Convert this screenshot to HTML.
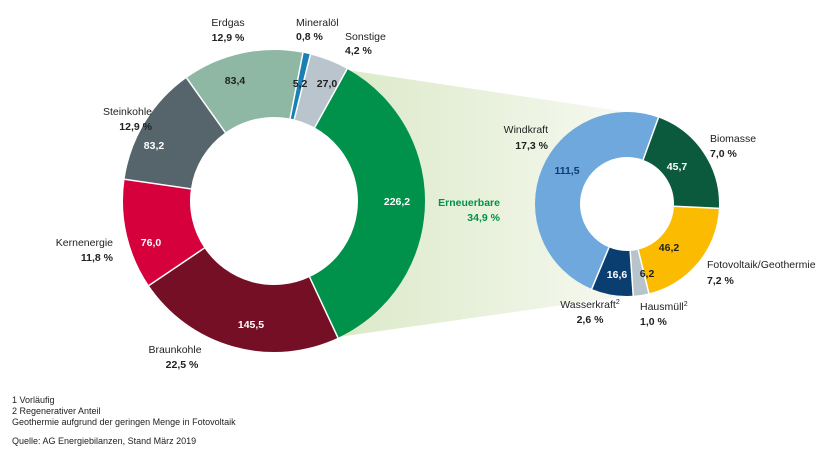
<!DOCTYPE html>
<html><head><meta charset="utf-8"><style>
body{margin:0;background:#fff}
svg{display:block;font-family:"Liberation Sans",sans-serif}
.l{font-size:10.5px;fill:#222}
.p{font-size:10.5px;font-weight:bold;fill:#222}
.v{font-size:10.5px;font-weight:bold}
.f{font-size:9px;fill:#222}
</style></head><body>
<svg width="834" height="467" viewBox="0 0 834 467">
<defs><linearGradient id="g" x1="0" x2="1" y1="0" y2="0">
<stop offset="0" stop-color="#dbe9c8"/><stop offset="1" stop-color="#f6f9f0"/></linearGradient></defs>
<polygon points="347,70 627,112 627,296 338,337" fill="url(#g)"/>
<circle cx="274" cy="201" r="84" fill="#fff"/>
<circle cx="627" cy="204" r="47" fill="#fff"/>
<g fill="none" stroke-width="67">
<circle cx="274" cy="201" r="117.5" stroke="#8fb8a4" stroke-dasharray="95.24 1000" transform="rotate(-125.4 274 201)"/>
<circle cx="274" cy="201" r="117.5" stroke="#1a7fb5" stroke-dasharray="5.94 1000" transform="rotate(-78.96 274 201)"/>
<circle cx="274" cy="201" r="117.5" stroke="#b9c4cc" stroke-dasharray="30.82 1000" transform="rotate(-76.06 274 201)"/>
<circle cx="274" cy="201" r="117.5" stroke="#00914a" stroke-dasharray="258.32 1000" transform="rotate(-61.03 274 201)"/>
<circle cx="274" cy="201" r="117.5" stroke="#750f26" stroke-dasharray="166.16 1000" transform="rotate(64.93 274 201)"/>
<circle cx="274" cy="201" r="117.5" stroke="#d5003c" stroke-dasharray="86.79 1000" transform="rotate(145.95 274 201)"/>
<circle cx="274" cy="201" r="117.5" stroke="#56656b" stroke-dasharray="95.02 1000" transform="rotate(188.27 274 201)"/>
</g>
<g stroke="#fff" stroke-width="1.5">
<line x1="274" y1="117" x2="274" y2="50" transform="rotate(-35.4 274 201)"/>
<line x1="274" y1="117" x2="274" y2="50" transform="rotate(11.04 274 201)"/>
<line x1="274" y1="117" x2="274" y2="50" transform="rotate(13.94 274 201)"/>
<line x1="274" y1="117" x2="274" y2="50" transform="rotate(28.97 274 201)"/>
<line x1="274" y1="117" x2="274" y2="50" transform="rotate(154.93 274 201)"/>
<line x1="274" y1="117" x2="274" y2="50" transform="rotate(235.95 274 201)"/>
<line x1="274" y1="117" x2="274" y2="50" transform="rotate(278.27 274 201)"/>
</g>
<g fill="none" stroke-width="45">
<circle cx="627" cy="204" r="69.5" stroke="#0b5a3e" stroke-dasharray="88.22 1000" transform="rotate(-70 627 204)"/>
<circle cx="627" cy="204" r="69.5" stroke="#fbbb00" stroke-dasharray="89.19 1000" transform="rotate(2.73 627 204)"/>
<circle cx="627" cy="204" r="69.5" stroke="#b8c4cc" stroke-dasharray="11.97 1000" transform="rotate(76.26 627 204)"/>
<circle cx="627" cy="204" r="69.5" stroke="#0b3e70" stroke-dasharray="32.05 1000" transform="rotate(86.13 627 204)"/>
<circle cx="627" cy="204" r="69.5" stroke="#6fa8dc" stroke-dasharray="215.25 1000" transform="rotate(112.55 627 204)"/>
</g>
<g stroke="#fff" stroke-width="1.5">
<line x1="627" y1="157" x2="627" y2="111" transform="rotate(20 627 204)"/>
<line x1="627" y1="157" x2="627" y2="111" transform="rotate(92.73 627 204)"/>
<line x1="627" y1="157" x2="627" y2="111" transform="rotate(166.26 627 204)"/>
<line x1="627" y1="157" x2="627" y2="111" transform="rotate(176.13 627 204)"/>
<line x1="627" y1="157" x2="627" y2="111" transform="rotate(202.55 627 204)"/>
</g>
<g class="v" text-anchor="middle">
<text x="235" y="84" fill="#222">83,4</text>
<text x="300" y="87" fill="#222">5,2</text>
<text x="327" y="87" fill="#222">27,0</text>
<text x="397" y="205" fill="#fff">226,2</text>
<text x="251" y="328" fill="#fff">145,5</text>
<text x="151" y="246" fill="#fff">76,0</text>
<text x="154" y="149" fill="#fff">83,2</text>
<text x="567" y="174" fill="#0b3e70">111,5</text>
<text x="677" y="170" fill="#fff">45,7</text>
<text x="669" y="251" fill="#222">46,2</text>
<text x="647" y="277" fill="#222">6,2</text>
<text x="617" y="278" fill="#fff">16,6</text>
</g>
<g text-anchor="middle">
<text class="l" x="228" y="26">Erdgas</text><text class="p" x="228" y="41">12,9 %</text>
<text class="l" x="590" y="308">Wasserkraft<tspan font-size="7" dy="-4">2</tspan></text><text class="p" x="590" y="323">2,6 %</text>
<text class="l" x="175" y="353">Braunkohle</text><text class="p" x="182" y="368">22,5 %</text>
</g>
<text class="l" x="296" y="26">Mineralöl</text><text class="p" x="296" y="40">0,8 %</text>
<text class="l" x="345" y="40">Sonstige</text><text class="p" x="345" y="54">4,2 %</text>
<g text-anchor="end">
<text class="l" x="152" y="115">Steinkohle</text><text class="p" x="152" y="130">12,9 %</text>
<text class="l" x="113" y="246">Kernenergie</text><text class="p" x="113" y="261">11,8 %</text>
<text class="p" x="500" y="206" style="fill:#00914a">Erneuerbare</text><text class="p" x="500" y="221" style="fill:#00914a">34,9 %</text>
<text class="l" x="548" y="133">Windkraft</text><text class="p" x="548" y="149">17,3 %</text>
</g>
<text class="l" x="710" y="142">Biomasse</text><text class="p" x="710" y="157">7,0 %</text>
<text class="l" x="707" y="268">Fotovoltaik/Geothermie</text><text class="p" x="707" y="284">7,2 %</text>
<text class="l" x="640" y="310">Hausmüll<tspan font-size="7" dy="-4">2</tspan></text><text class="p" x="640" y="325">1,0 %</text>
<text class="f" x="12" y="403">1  Vorläufig</text>
<text class="f" x="12" y="414">2  Regenerativer Anteil</text>
<text class="f" x="12" y="425">Geothermie aufgrund der geringen Menge in Fotovoltaik</text>
<text class="f" x="12" y="444">Quelle: AG Energiebilanzen, Stand März 2019</text>
</svg>
</body></html>
